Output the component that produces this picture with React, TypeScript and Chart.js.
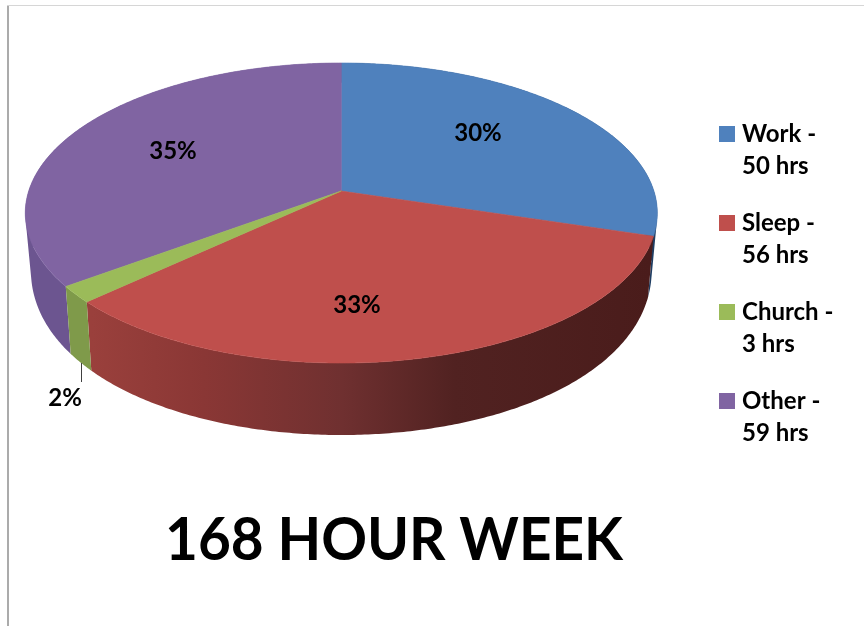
import React, { useEffect, useRef } from "react";
import { Chart, registerables } from "chart.js";

Chart.register(...registerables);

const categories = ["Work", "Sleep", "Church", "Other"];
const hours = [50, 56, 3, 59];
const legendLines = [
  ["Work -", "50 hrs"],
  ["Sleep -", "56 hrs"],
  ["Church -", "3 hrs"],
  ["Other -", "59 hrs"],
];
const percentLabels = ["30%", "33%", "2%", "35%"];
const topColors = ["#4f81bd", "#bf4f4c", "#9bbb59", "#8064a2"];
const chartTitle = "168 HOUR WEEK";

// Perspective projection of the disc: apex, radii and foreshortening
const TOP = { cx: 341.3, cy: 191, rx: 312.6, ry: 146.8, px: 0.1467, py: 0.1467 };
const BOT = { cx: 341.3, cy: 244.8, rx: 307, ry: 175, px: 0.1467, py: 0.08 };
const project = (g: typeof TOP, t: number): [number, number] => {
  const x = Math.sin(t);
  const y = -Math.cos(t);
  return [g.cx + (g.rx * x) / (1 - g.px * y), g.cy + (g.ry * y) / (1 - g.py * y)];
};

const wallFill = (ctx: CanvasRenderingContext2D, i: number) => {
  if (i === 1) {
    const g = ctx.createLinearGradient(92, 0, 650, 0);
    g.addColorStop(0, "#9a403c");
    g.addColorStop(0.2, "#8a3735");
    g.addColorStop(0.45, "#6f3030");
    g.addColorStop(0.65, "#512221");
    g.addColorStop(1, "#4a1c1b");
    return g;
  }
  return ["#1f3d62", "", "#7f9a4a", "#6c5590"][i];
};

const labelCenters: [number, number][] = [
  [478, 133],
  [357, 305],
  [65, 398],
  [173, 151],
];

const TITLE_SQUEEZE = 0.945;

const pie3d = {
  id: "pie3d",
  afterLayout(chart: any) {
    const l = chart.legend;
    const w = l.width;
    const h = l.height;
    l.left = 699;
    l.right = 699 + w;
    l.top = 97;
    l.bottom = 97 + h;
    const t = chart.titleBlock;
    t.left = 10;
    t.right = 778;
    t.width = 768;
    t.top = 505;
    t.bottom = 505 + t.height;
    if (!t._squeezed) {
      t._squeezed = true;
      const orig = t.draw;
      t.draw = function (...rest: any[]) {
        const ctx: CanvasRenderingContext2D = chart.ctx;
        const c = (t.left + t.right) / 2;
        ctx.save();
        ctx.translate(c, 0);
        ctx.scale(TITLE_SQUEEZE, 1);
        ctx.translate(-c, 0);
        orig.apply(t, rest);
        ctx.restore();
      };
    }
  },
  beforeDatasetDraw(chart: any, args: any) {
    const ctx: CanvasRenderingContext2D = chart.ctx;
    const arcs = args.meta.data;
    const ranges = arcs.map((a: any) => [a.startAngle + Math.PI / 2, a.endAngle + Math.PI / 2]);
    const sample = (g: typeof TOP, a0: number, a1: number) => {
      const n = Math.max(2, Math.ceil(Math.abs(a1 - a0) / 0.01));
      const pts: [number, number][] = [];
      for (let k = 0; k <= n; k++) pts.push(project(g, a0 + ((a1 - a0) * k) / n));
      return pts;
    };
    ctx.save();
    [0, 3, 1, 2].forEach((i) => {
      const [a0, a1] = ranges[i];
      const up = sample(TOP, a0, a1);
      const dn = sample(BOT, a0, a1);
      ctx.fillStyle = wallFill(ctx, i) as any;
      ctx.beginPath();
      for (let k = 0; k < up.length - 1; k++) {
        const quad = [up[k], up[k + 1], dn[k + 1], dn[k]];
        let area = 0;
        quad.forEach((p, j) => {
          const q = quad[(j + 1) % 4];
          area += p[0] * q[1] - q[0] * p[1];
        });
        if (area < 0) quad.reverse();
        quad.forEach(([x, y], j) => (j ? ctx.lineTo(x, y) : ctx.moveTo(x, y)));
        ctx.closePath();
      }
      ctx.fill("nonzero");
    });
    [0, 3, 1, 2].forEach((i) => {
      const [a0, a1] = ranges[i];
      ctx.beginPath();
      ctx.moveTo(TOP.cx, TOP.cy);
      sample(TOP, a0, a1).forEach(([x, y]) => ctx.lineTo(x, y));
      ctx.closePath();
      ctx.fillStyle = arcs[i].options.backgroundColor;
      ctx.fill();
      ctx.strokeStyle = arcs[i].options.backgroundColor;
      ctx.lineWidth = 0.6;
      ctx.stroke();
    });
    // leader line for the small slice
    ctx.beginPath();
    ctx.moveTo(81.5, 363);
    ctx.lineTo(81.5, 382);
    ctx.strokeStyle = "#404040";
    ctx.lineWidth = 1;
    ctx.stroke();
    // percentage labels
    ctx.fillStyle = "#000";
    ctx.font = "bold 24px Lato";
    ctx.textAlign = "center";
    ctx.textBaseline = "middle";
    percentLabels.forEach((s, i) => ctx.fillText(s, labelCenters[i][0], labelCenters[i][1]));
    ctx.restore();
    return false;
  },
};

export default function App() {
  const ref = useRef<HTMLCanvasElement>(null);
  useEffect(() => {
    const chart = new Chart(ref.current!, {
      type: "pie",
      plugins: [pie3d],
      data: {
        labels: categories,
        datasets: [{ data: hours, backgroundColor: topColors, borderWidth: 0 }],
      },
      options: {
        responsive: false,
        animation: false,
        plugins: {
          tooltip: { enabled: false },
          legend: {
            display: true,
            position: "right",
            align: "start",
            labels: {
              boxWidth: 6,
              boxHeight: 6,
              padding: 25,
              color: "#000",
              font: { family: "Lato", size: 24, weight: "bold", lineHeight: 32 / 24 },
              generateLabels: () =>
                legendLines.map((text, i) => ({
                  text,
                  fillStyle: topColors[i],
                  strokeStyle: topColors[i],
                  lineWidth: 10,
                  hidden: false,
                  index: i,
                })),
            },
          },
          title: {
            display: true,
            text: chartTitle,
            position: "bottom",
            color: "#000",
            font: { family: "Lato", size: 60, weight: "bold" },
            padding: 0,
          },
        },
      } as any,
    });
    return () => chart.destroy();
  }, []);
  return (
    <div style={{ position: "absolute", left: 0, top: 0, width: 864, height: 626, background: "#fff", overflow: "hidden" }}>
      <canvas ref={ref} width={864} height={626} style={{ display: "block" }} />
      <div style={{ position: "absolute", left: 7, top: 5, width: 2, height: 621, background: "#ababab" }} />
      <div style={{ position: "absolute", left: 7, top: 5, width: 857, height: 1, background: "#d6d6d6" }} />
    </div>
  );
}
